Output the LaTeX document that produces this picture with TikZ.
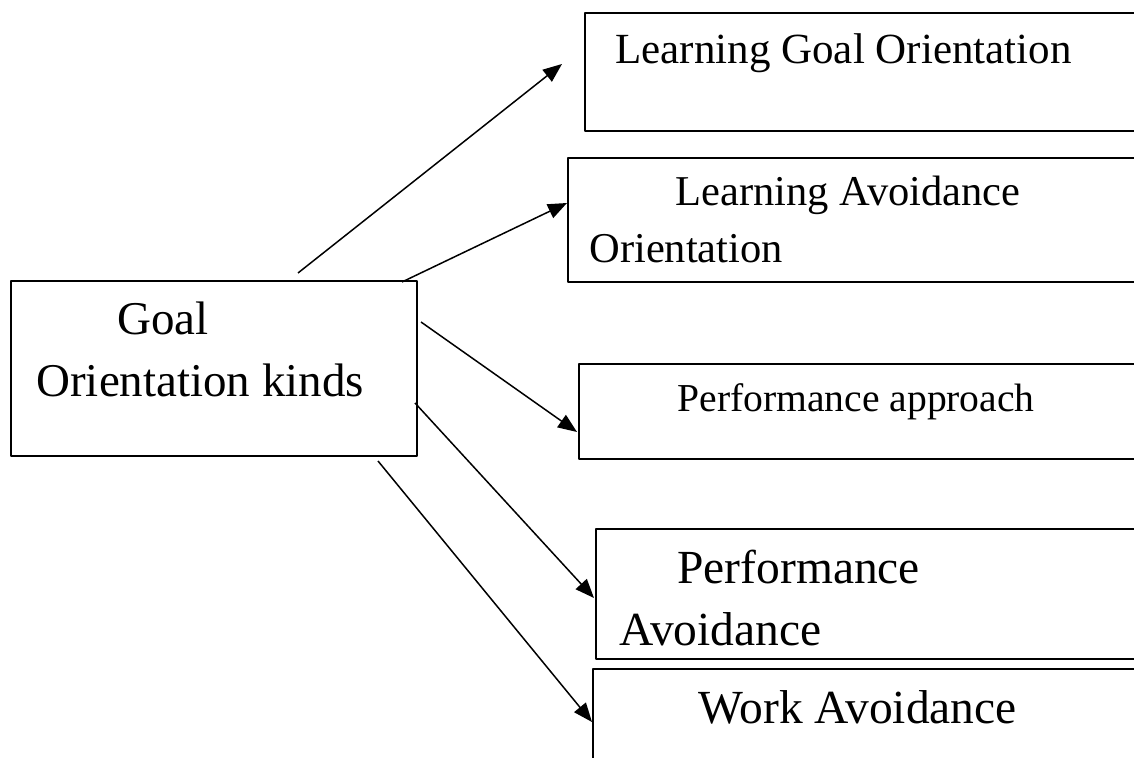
\documentclass[tikz,border=0pt]{standalone}
\usepackage{fontspec}
\setmainfont{Liberation Serif}
\usetikzlibrary{arrows.meta}
\newcommand\fsz[1]{\fontsize{#1}{#1}\selectfont}
\tikzset{
  kindbox/.style={draw,line width=1pt,anchor=north west,inner sep=0pt},
  kindtext/.style={anchor=base west,inner sep=0pt},
  link/.style={->,line width=0.75pt},
}
\begin{document}
\begin{tikzpicture}[x=0.5pt,y=-0.5pt,>={Triangle[length=9.5pt,width=7.5pt]},line join=round]
  \useasboundingbox (0,0) rectangle (1134,758);
  \clip (0,0) rectangle (1134,758);
  % central box
  \node[kindbox,minimum width=203pt,minimum height=87.5pt] (goal) at (10,280) {};
  \node[kindtext,font=\fsz{23.5}] (goal-a) at (117,335) {Goal};
  \node[kindtext,font=\fsz{23.5}] (goal-b) at (36,397) {Orientation kinds};
  % the five kinds, running off the right edge
  \node[kindbox,minimum width=283pt,minimum height=59pt] (lgo) at (584,12) {};
  \node[kindtext,font=\fsz{21.5}] (lgo-a) at (615,64) {Learning Goal Orientation};
  \node[kindbox,minimum width=291.5pt,minimum height=62pt] (lao) at (567,157) {};
  \node[kindtext,font=\fsz{21.25}] (lao-a) at (675,206) {Learning Avoidance};
  \node[kindtext,font=\fsz{21.25}] (lao-b) at (589,263) {Orientation};
  \node[kindbox,minimum width=286pt,minimum height=47.5pt] (pap) at (578,363) {};
  \node[kindtext,font=\fsz{19.8}] (pap-a) at (677,412) {Performance approach};
  \node[kindbox,minimum width=277.5pt,minimum height=65pt] (pav) at (595,528) {};
  \node[kindtext,font=\fsz{23.75}] (pav-a) at (677,583) {Performance};
  \node[kindtext,font=\fsz{23.75}] (pav-b) at (619,645) {Avoidance};
  \node[kindbox,minimum width=279pt,minimum height=56pt] (wav) at (592,668) {};
  \node[kindtext,font=\fsz{23.75}] (wav-a) at (698,723) {Work Avoidance};
  % arrow ends
  \coordinate (s1) at (298,273); \coordinate (e1) at (562,64);
  \coordinate (s2) at (402,282); \coordinate (e2) at (567,203);
  \coordinate (s3) at (421,322); \coordinate (e3) at (577,432);
  \coordinate (s4) at (415,403); \coordinate (e4) at (594,598);
  \coordinate (s5) at (378,461); \coordinate (e5) at (592,722);
  \foreach \i in {1,...,5}
    \draw[link] (s\i) -- (e\i);
\end{tikzpicture}
\end{document}
